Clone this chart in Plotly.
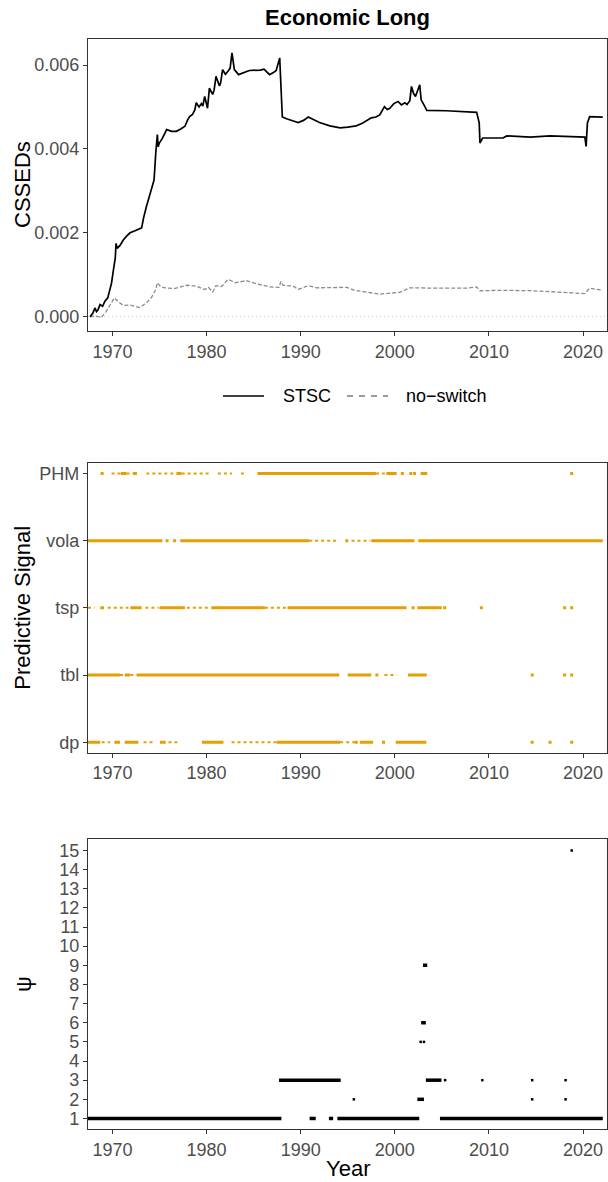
import plotly.graph_objects as go

# ---------------- data ----------------
years_ticks = [1970, 1980, 1990, 2000, 2010, 2020]

stsc_year = [1967.62, 1967.9, 1968.15, 1968.3, 1968.45, 1968.68, 1968.95, 1969.2, 1969.5, 1969.74, 1969.9, 1970.1,
             1970.3, 1970.38, 1970.5, 1970.8, 1971.15, 1971.5, 1971.87, 1972.4, 1972.9, 1973.1, 1973.3, 1973.46,
             1973.6, 1973.81, 1974.0, 1974.17, 1974.42, 1974.6, 1974.77, 1974.85, 1974.98, 1975.3, 1975.76, 1976.3,
             1976.8, 1977.3, 1977.7, 1978.0, 1978.2, 1978.5, 1978.75, 1978.9, 1979.2, 1979.45, 1979.6, 1979.8,
             1980.1, 1980.3, 1980.65, 1980.8, 1981.0, 1981.37, 1981.5, 1981.7, 1982.0, 1982.27, 1982.5, 1982.7,
             1982.95, 1983.4, 1983.85, 1984.2, 1984.55, 1985.26, 1985.7, 1986.1, 1986.7, 1987.1, 1987.4, 1987.77,
             1987.9, 1988.05, 1988.5, 1988.85, 1989.3, 1989.73, 1990.3, 1990.8, 1991.3, 1992.0, 1993.1, 1994.2,
             1995.0, 1995.9, 1996.6, 1997.5, 1998.0, 1998.4, 1998.9, 1999.2, 1999.47, 1999.9, 2000.35, 2000.7,
             2001.06, 2001.3, 2001.6, 2001.77, 2002.0, 2002.2, 2002.65, 2002.8, 2003.1, 2003.4, 2005.5, 2007.97,
             2008.7, 2008.97, 2009.05, 2009.33, 2011.5, 2011.9, 2014.4, 2016.5, 2020.2, 2020.33, 2020.47, 2020.7,
             2022.1]
stsc_value = [0.0, 0.00008, 0.00021, 0.00012, 0.00016, 0.00029, 0.00025, 0.00037, 0.00045, 0.00071, 0.00080, 0.00111,
              0.00140, 0.00175, 0.00163, 0.00170, 0.00183, 0.00192, 0.00200, 0.00205, 0.00210, 0.00212, 0.00235, 0.00254,
              0.00262, 0.00278, 0.00295, 0.00310, 0.00326, 0.00390, 0.00434, 0.00405, 0.00414, 0.00425, 0.00446, 0.00442,
              0.00442, 0.00448, 0.00454, 0.00470, 0.00477, 0.00482, 0.00493, 0.00510, 0.00500, 0.00508, 0.00502, 0.00525,
              0.00497, 0.00545, 0.00530, 0.00540, 0.00573, 0.00550, 0.00558, 0.00589, 0.00578, 0.00585, 0.00592, 0.00629,
              0.00589, 0.00577, 0.00580, 0.00584, 0.00587, 0.00587, 0.00588, 0.00590, 0.00577, 0.00582, 0.00587, 0.00617,
              0.00541, 0.00476, 0.00472, 0.00470, 0.00466, 0.00463, 0.00468, 0.00476, 0.00470, 0.00463, 0.00455, 0.00450,
              0.00452, 0.00455, 0.00462, 0.00474, 0.00476, 0.00481, 0.00501, 0.00494, 0.00497, 0.00508, 0.00513, 0.00505,
              0.00510, 0.00506, 0.00515, 0.00549, 0.00532, 0.00525, 0.00553, 0.00517, 0.00505, 0.00492, 0.00491, 0.00489,
              0.00487, 0.00462, 0.00414, 0.00426, 0.00426, 0.00431, 0.00428, 0.00431, 0.00428, 0.00406, 0.00462, 0.00477,
              0.00476]

noswitch_year = [1967.62, 1968.2, 1968.8, 1969.32, 1969.85, 1970.2, 1970.6, 1971.15, 1971.87, 1972.58, 1972.9,
                 1973.66, 1974.17, 1974.6, 1974.77, 1975.2, 1976.5, 1977.9, 1978.9, 1979.8, 1980.2, 1980.65, 1981.0,
                 1981.6, 1982.27, 1983.1, 1984.2, 1985.26, 1986.7, 1987.7, 1987.9, 1988.15, 1989.2, 1989.73, 1990.8,
                 1991.7, 1993.1, 1994.9, 1995.7, 1998.4, 2000.5, 2001.6, 2004.8, 2007.6, 2008.7, 2009.05, 2011.5,
                 2014.4, 2017.2, 2020.2, 2020.7, 2022.1]
noswitch_value = [0.0, 0.00002, -0.00002, 0.00012, 0.00032, 0.00045, 0.00036, 0.00027, 0.00028, 0.00023, 0.00022,
                  0.00034, 0.00047, 0.00065, 0.00081, 0.00070, 0.00067, 0.00075, 0.00073, 0.00065, 0.00070, 0.00059, 0.00074,
                  0.00072, 0.00089, 0.00081, 0.00086, 0.00079, 0.00071, 0.00070, 0.00084, 0.00075, 0.00073, 0.00065, 0.00074,
                  0.00069, 0.00070, 0.00070, 0.00063, 0.00054, 0.00058, 0.00069, 0.00068, 0.00068, 0.00071, 0.00062, 0.00063,
                  0.00062, 0.00059, 0.00055, 0.00068, 0.00063]

series_names = ["STSC", "no\u2212switch"]

signals = ["dp", "tbl", "tsp", "vola", "PHM"]

phm_dense = [(1970.9, 1971.5), (1972.2, 1972.6), (1976.8, 1977.35), (1985.4, 1998.0), (1999.1, 2000.2), (2002.75, 2003.45)]
phm_sparse = [(1969.9, 1970.9), (1971.5, 1972.75), (1973.6, 1976.8), (1977.35, 1980.5), (1981.2, 1982.7),
              (1983.65, 1984.25), (1998.0, 1999.1)]
phm_single = [1968.9, 2000.8, 2001.7, 2002.1, 2018.8]

vola_dense = [(1967.4, 1975.3), (1977.2, 1990.9), (1997.5, 2002.1), (2002.5, 2022.1)]
vola_sparse = [(1990.9, 1994.1), (1995.4, 1997.4)]
vola_single = [1975.8, 1976.6, 1994.9]

tsp_dense = [(1968.7, 1969.1), (1971.9, 1973.1), (1975.0, 1977.7), (1980.5, 1986.2), (1988.6, 2001.25), (2002.4, 2005.0)]
tsp_sparse = [(1967.4, 1968.1), (1969.5, 1971.7), (1973.5, 1974.9), (1977.9, 1980.2), (1986.2, 1988.6)]
tsp_single = [2001.95, 2005.3, 2009.2, 2018.05, 2018.8]

tbl_dense = [(1967.4, 1970.8), (1971.3, 1971.9), (1972.6, 1994.1), (1995.0, 1997.5), (2001.4, 2003.4)]
tbl_sparse = [(1970.8, 1971.3), (1971.9, 1972.6), (1998.9, 2000.2)]
tbl_single = [1998.1, 2014.6, 2018.05, 2018.8]

dp_dense = [(1967.4, 1968.7), (1970.2, 1970.8), (1971.3, 1972.75), (1979.5, 1981.8), (1987.45, 1994.2),
            (1996.3, 1997.7), (2000.1, 2003.35)]
dp_sparse = [(1968.85, 1969.75), (1973.3, 1974.5), (1975.95, 1977.0), (1982.65, 1987.45), (1994.2, 1995.95)]
dp_single = [1975.2, 1975.5, 1995.9, 1998.8, 2014.6, 2016.5, 2018.8]

psi_ticks = list(range(1, 16))
psi_band_level = [1, 1, 1, 1, 1, 3, 3, 2, 6, 9]
psi_band_start = [1967.4, 1990.95, 1993.0, 1993.9, 2004.8, 1987.7, 2003.3, 2002.4, 2002.8, 2003.0]
psi_band_end = [1987.95, 1991.6, 1993.45, 2002.6, 2022.1, 1994.25, 2004.95, 2003.1, 2003.3, 2003.45]
psi_point_year = [1995.65, 2014.6, 2018.15, 2005.35, 2009.3, 2014.6, 2018.15, 2002.75, 2003.1, 2018.8]
psi_point_level = [2, 2, 2, 3, 3, 3, 3, 5, 5, 15]

# ---------------- style ----------------
FONT = "Liberation Sans, Arial, Helvetica, sans-serif"
ORANGE = "#E69F00"
W, H = 608, 1182
PLOT_L, PLOT_R, PLOT_T, PLOT_B = 88, 607, 39, 1129
L, R, T, B = PLOT_L, W - PLOT_R, PLOT_T, H - PLOT_B
PH = H - T - B
PW = W - L - R


def ypaper(py):
    return (PLOT_B - py) / PH


def xpaper(px):
    return (px - PLOT_L) / PW


def ydom(top_px, bot_px):
    return [ypaper(bot_px), ypaper(top_px)]


def segs(intervals, level):
    xs, ys = [], []
    for s, e in intervals:
        xs += [s, e, None]
        ys += [level, level, None]
    return xs, ys


STSC_LINE = dict(color="black", width=1.7)
NOSW_LINE = dict(color="#8C8C8C", width=1.3, dash="4px,2px")

fig = go.Figure()

# top panel
fig.add_trace(go.Scatter(x=noswitch_year, y=noswitch_value, mode="lines", name=series_names[1],
                         line=NOSW_LINE, showlegend=False, xaxis="x", yaxis="y"))
fig.add_trace(go.Scatter(x=stsc_year, y=stsc_value, mode="lines", name=series_names[0],
                         line=STSC_LINE, showlegend=False, xaxis="x", yaxis="y"))

# middle panel
sig_data = {
    "PHM": (phm_dense, phm_sparse, phm_single),
    "vola": (vola_dense, vola_sparse, vola_single),
    "tsp": (tsp_dense, tsp_sparse, tsp_single),
    "tbl": (tbl_dense, tbl_sparse, tbl_single),
    "dp": (dp_dense, dp_sparse, dp_single),
}
for sig in signals:
    dense, sparse, single = sig_data[sig]
    x, y = segs(dense, sig)
    fig.add_trace(go.Scatter(x=x, y=y, mode="lines", line=dict(color=ORANGE, width=3),
                             showlegend=False, xaxis="x2", yaxis="y2"))
    x, y = segs(sparse, sig)
    fig.add_trace(go.Scatter(x=x, y=y, mode="lines", line=dict(color=ORANGE, width=2, dash="dot"),
                             showlegend=False, xaxis="x2", yaxis="y2"))
    fig.add_trace(go.Scatter(x=single, y=[sig] * len(single), mode="markers",
                             marker=dict(color=ORANGE, size=3, symbol="square"),
                             showlegend=False, xaxis="x2", yaxis="y2"))

# bottom panel
bx, by = [], []
for lv, s, e in zip(psi_band_level, psi_band_start, psi_band_end):
    bx += [s, e, None]
    by += [lv, lv, None]
fig.add_trace(go.Scatter(x=bx, y=by, mode="lines", line=dict(color="black", width=3.5),
                         showlegend=False, xaxis="x3", yaxis="y3"))
fig.add_trace(go.Scatter(x=psi_point_year, y=psi_point_level, mode="markers",
                         marker=dict(color="black", size=2.5, symbol="square"),
                         showlegend=False, xaxis="x3", yaxis="y3"))

xcommon = dict(range=[1967.4, 2022.55], tickvals=years_ticks, showgrid=False, zeroline=False,
               showline=True, mirror=True, linecolor="#333333", linewidth=1.2,
               ticks="outside", ticklen=4, tickcolor="#333333", tickwidth=1,
               tickfont=dict(size=18, color="#4D4D4D", family=FONT))
ycommon = dict(showgrid=False, zeroline=False, showline=True, mirror=True, linecolor="#333333",
               linewidth=1.2, ticks="outside", ticklen=4, tickcolor="#333333", tickwidth=1,
               tickfont=dict(size=18, color="#4D4D4D", family=FONT))

fig.update_layout(
    width=W, height=H, margin=dict(l=L, r=R, t=T, b=B, autoexpand=False),
    paper_bgcolor="white", plot_bgcolor="white",
    font=dict(family=FONT, color="black"),
    showlegend=False,
    xaxis=dict(**xcommon, anchor="y", domain=[0, 1]),
    yaxis=dict(**ycommon, domain=ydom(39, 331), range=[-0.00034, 0.00662],
               tickvals=[0, 0.002, 0.004, 0.006], ticktext=["0.000", "0.002", "0.004", "0.006"]),
    xaxis2=dict(**xcommon, anchor="y2", domain=[0, 1]),
    yaxis2=dict(**ycommon, domain=ydom(462.7, 752.7), type="category",
                categoryorder="array", categoryarray=signals, range=[-0.155, 4.16]),
    xaxis3=dict(**xcommon, anchor="y3", domain=[0, 1]),
    yaxis3=dict(**ycommon, domain=ydom(839.3, 1129), range=[0.45, 15.58],
                tickvals=psi_ticks, ticktext=[str(v) for v in psi_ticks]),
)

fig.add_shape(type="line", xref="x domain", yref="y", x0=0, x1=1, y0=0, y1=0,
              line=dict(color="#C8C8C8", width=1, dash="1px,3px"), layer="below")

# legend (drawn as key lines + labels below the top panel)
LEG_Y = ypaper(396)
fig.add_shape(type="line", xref="paper", yref="paper", x0=xpaper(223), x1=xpaper(264), y0=LEG_Y, y1=LEG_Y,
              line=STSC_LINE)
fig.add_shape(type="line", xref="paper", yref="paper", x0=xpaper(347), x1=xpaper(388), y0=LEG_Y, y1=LEG_Y,
              line=dict(color="#9A9A9A", width=1.8, dash="6px,6px"))

ann = [
    dict(text="<b>Economic Long</b>", x=xpaper(347.5), y=ypaper(18), xanchor="center", yanchor="middle",
         font=dict(size=22, color="black", family=FONT)),
    dict(text="CSSEDs", x=xpaper(23), y=ypaper(185), textangle=-90, xanchor="center",
         yanchor="middle", font=dict(size=22, color="black", family=FONT)),
    dict(text="Predictive Signal", x=xpaper(23), y=ypaper(607.7), textangle=-90, xanchor="center",
         yanchor="middle", font=dict(size=22, color="black", family=FONT)),
    dict(text="\u03c8", x=xpaper(23), y=ypaper(984), textangle=-90, xanchor="center",
         yanchor="middle", font=dict(size=22, color="black", family=FONT)),
    dict(text="Year", x=xpaper(347.5), y=ypaper(1168), xanchor="center", yanchor="middle",
         font=dict(size=22, color="black", family=FONT)),
    dict(text=series_names[0], x=xpaper(281), y=LEG_Y, xanchor="left", yanchor="middle",
         font=dict(size=18, color="black", family=FONT)),
    dict(text=series_names[1], x=xpaper(404), y=LEG_Y, xanchor="left", yanchor="middle",
         font=dict(size=18, color="black", family=FONT)),
]
for a in ann:
    fig.add_annotation(xref="paper", yref="paper", showarrow=False, **a)

fig.write_html("out.html", config={"displayModeBar": False},
               post_script="document.body.style.margin='0';document.documentElement.style.overflow='hidden';")
